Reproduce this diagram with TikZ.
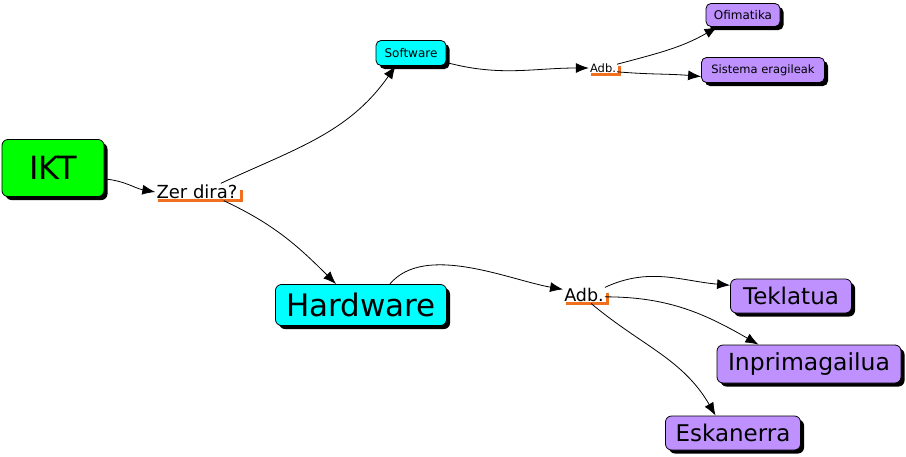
\documentclass[tikz,border=0pt]{standalone}
\usepackage{fontspec}
\setmainfont{DejaVu Sans}
\usetikzlibrary{arrows.meta,shadows}
\definecolor{iktgreen}{RGB}{0,255,0}
\definecolor{boxcyan}{RGB}{0,255,255}
\definecolor{boxlilac}{RGB}{190,145,255}
\definecolor{markorange}{RGB}{240,112,32}
\newcommand{\fs}[1]{\fontsize{#1}{#1}\selectfont}
\tikzset{
  concept/.style  = {draw=black,line width=0.8pt,rounded corners=6pt,inner sep=0pt,
                     drop shadow={shadow xshift=3.5pt,shadow yshift=-3.5pt,opacity=1,fill=black}},
  linkword/.style = {inner xsep=1pt,inner ysep=1.5pt},
  link/.style     = {-{Latex[length=13pt,width=10pt]},line width=0.8pt},
  markline/.style = {markorange,line width=3pt}
}
\newcommand{\undermark}[1]{%
  \draw[markline] ([xshift=2.5pt]#1.south west) -- ([xshift=2.5pt]#1.south east) -- ([xshift=2.5pt,yshift=2pt]#1.east);
}

\begin{document}
\begin{tikzpicture}[x=1pt,y=1pt]
  \useasboundingbox (0,0) rectangle (906,-456);
  \node[concept,fill=iktgreen,minimum width=102pt,minimum height=57pt,font=\fs{32}] (ikt) at (53,-168) {IKT};
  \node[linkword,font=\fs{18}] (zer) at (197,-192) {Zer dira?};
  \node[concept,fill=boxcyan,rounded corners=5pt,minimum width=70pt,minimum height=25pt,font=\fs{12}] (soft) at (411,-53) {Software};
  \node[linkword,font=\fs{11.5}] (adbA) at (603,-68) {Adb.};
  \node[concept,fill=boxlilac,rounded corners=5pt,minimum width=74pt,minimum height=23pt,font=\fs{12}] (ofim) at (743,-15) {Ofimatika};
  \node[concept,fill=boxlilac,rounded corners=5pt,minimum width=123pt,minimum height=25pt,font=\fs{11.5}] (sist) at (763,-70) {Sistema eragileak};
  \node[concept,fill=boxcyan,minimum width=171pt,minimum height=41pt,font=\fs{31}] (hard) at (361,-305) {Hardware};
  \node[linkword,font=\fs{17.5}] (adbB) at (584,-295) {Adb.};
  \node[concept,fill=boxlilac,minimum width=121pt,minimum height=34pt,font=\fs{23}] (tek) at (791,-296) {Teklatua};
  \node[concept,fill=boxlilac,minimum width=184pt,minimum height=38pt,font=\fs{23.5}] (inpr) at (809,-364) {Inprimagailua};
  \node[concept,fill=boxlilac,minimum width=135pt,minimum height=34pt,font=\fs{23}] (esk) at (733,-433) {Eskanerra};

  \undermark{zer}
  \undermark{adbA}
  \undermark{adbB}

  \draw[link] (ikt.-12) to[out=-5,in=170] (zer.west);
  \draw[link] (zer.20) to[out=25,in=235] (soft.220);
  \draw[link] (zer.-18) to[out=-25,in=135] (hard.140);
  \draw[link] (soft.-15) to[out=-15,in=180] (adbA.west);
  \draw[link] (adbA.15) to[out=15,in=210] (ofim.205);
  \draw[link] (adbA.-15) to[out=-5,in=175] (sist.186);
  \draw[link] (hard.36) to[out=50,in=170,looseness=0.8] (adbB.165);
  \draw[link] (adbB.20) to[out=25,in=175] (tek.170);
  \draw[link] (adbB.-5) to[out=0,in=150] (inpr.159);
  \draw[link] (adbB.-50) to[out=-40,in=120] (esk.135);
\end{tikzpicture}
\end{document}
